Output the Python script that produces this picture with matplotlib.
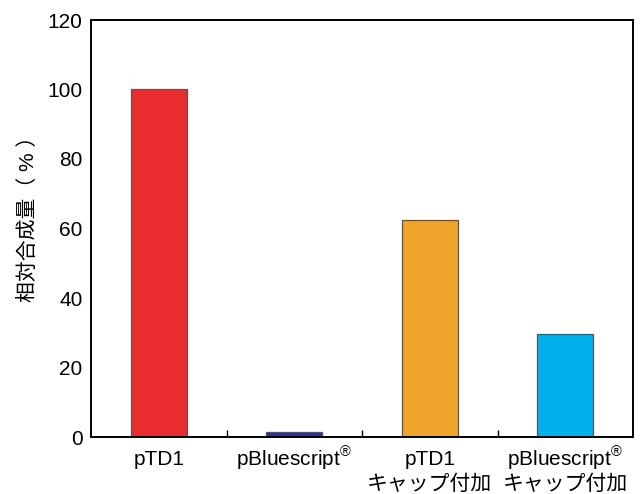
import numpy as np
from matplotlib import pyplot as plt

plt.rcParams['font.family'] = ['Liberation Sans', 'Noto Sans CJK JP']
plt.rcParams['mathtext.fontset'] = 'custom'
plt.rcParams['mathtext.rm'] = 'Liberation Sans'

# Données
labels_l1 = ["pTD1", r"pBluescript$^{\mathrm{®}}$", "pTD1", r"pBluescript$^{\mathrm{®}}$"]
labels_l2 = ["", "", "キャップ付加", "キャップ付加"]
values = [100, 1.5, 62.5, 29.6]
colors = ["#E92D2F", "#2E3192", "#F0A52D", "#00B0EC"]
yticks = [0, 20, 40, 60, 80, 100, 120]

fig = plt.figure(figsize=(6.41, 4.94), dpi=100)
ax = fig.add_axes([91/641, 57/494, 542/641, 417/494])

x = np.arange(len(values))
ax.bar(x, values, width=0.41, color=colors, edgecolor="#555555", linewidth=0.9)

ax.set_xlim(-0.5, len(values) - 0.5)
ax.set_ylim(0, 120)
ax.set_yticks(yticks)
ax.tick_params(axis="y", length=0, labelsize=15, pad=6)
ax.set_xticks(x)
ax.set_xticklabels([])
ax.tick_params(axis="x", which="major", length=0)
ax.set_xticks(x[:-1] + 0.5, minor=True)
ax.tick_params(axis="x", which="minor", direction="in", length=5, width=1)

# Étiquettes sur deux lignes, alignées sur la ligne de base
for xi, l1, l2 in zip(x, labels_l1, labels_l2):
    ax.annotate(l1, (xi, 0), xycoords=("data", "axes fraction"), xytext=(0, -20.5),
                textcoords="offset points", ha="center", va="baseline", fontsize=15)
    if l2:
        ax.annotate(l2, (xi, 0), xycoords=("data", "axes fraction"), xytext=(0, -38.5),
                    textcoords="offset points", ha="center", va="baseline", fontsize=15)

for s in ax.spines.values():
    s.set_linewidth(1.4)

ax.set_ylabel("相対合成量（ % ）", fontsize=15)
ax.yaxis.set_label_coords(-0.097, 0.535)

fig.savefig("out.png", dpi=100)
